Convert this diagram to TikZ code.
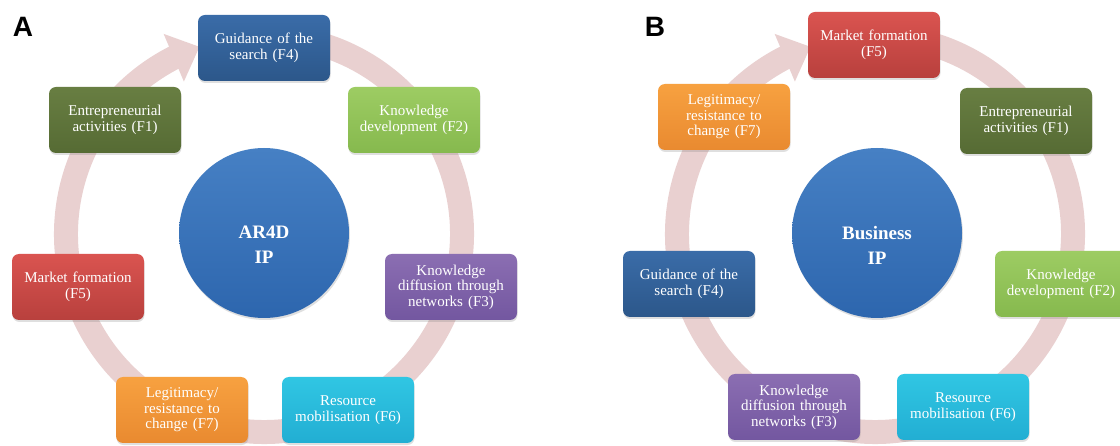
\documentclass[tikz,border=0pt]{standalone}
\usepackage{fontspec}
\setmainfont{Liberation Serif}
\newfontfamily\labelfont{Liberation Sans}
\usetikzlibrary{arrows.meta,bending,shadows}
\definecolor{ringc}{HTML}{E9D0D0}
\definecolor{fourT}{HTML}{3A6CA8}\definecolor{fourB}{HTML}{2C578A}
\definecolor{oneT}{HTML}{687E42}\definecolor{oneB}{HTML}{566B34}
\definecolor{twoT}{HTML}{9DCC63}\definecolor{twoB}{HTML}{86B94E}
\definecolor{fiveT}{HTML}{DA5450}\definecolor{fiveB}{HTML}{B8403D}
\definecolor{threeT}{HTML}{8B6EB2}\definecolor{threeB}{HTML}{7357A0}
\definecolor{sevenT}{HTML}{F7A140}\definecolor{sevenB}{HTML}{E98A30}
\definecolor{sixT}{HTML}{30C6E3}\definecolor{sixB}{HTML}{22AED3}
\definecolor{hubT}{HTML}{4680C4}\definecolor{hubB}{HTML}{2D66AE}
\begin{document}
\begin{tikzpicture}[x=1pt,y=-1pt,
  box/.style={rectangle, rounded corners=7pt, minimum width=132pt, minimum height=66pt,
    text width=128pt, align=center, text=white, inner sep=0pt,
    font=\fontsize{15}{15.5}\selectfont,
    drop shadow={shadow xshift=0.5pt, shadow yshift=-2pt, opacity=0.25}},
  fF1/.style={box, top color=oneT, bottom color=oneB},
  fF2/.style={box, top color=twoT, bottom color=twoB},
  fF3/.style={box, top color=threeT, bottom color=threeB},
  fF4/.style={box, top color=fourT, bottom color=fourB},
  fF5/.style={box, top color=fiveT, bottom color=fiveB},
  fF6/.style={box, top color=sixT, bottom color=sixB},
  fF7/.style={box, top color=sevenT, bottom color=sevenB},
  hub/.style={circle, minimum size=170pt, inner sep=0pt, top color=hubT, bottom color=hubB,
    drop shadow={shadow xshift=1pt, shadow yshift=-2pt, opacity=0.25}},
  hubtext/.style={text=white, align=center, font=\bfseries\fontsize{19}{25}\selectfont},
  ring/.style={line width=24pt, draw=ringc, -{Triangle[width=50pt,length=28pt]}},
  panel/.style={font=\labelfont\bfseries\fontsize{28}{28}\selectfont, text=black, inner sep=0pt}
]
\useasboundingbox[fill=white] (0,0) rectangle (1120,446);

% ---------- Panel A ----------
\coordinate (oA) at (264,234);
\draw[ring] ([shift={(-80:198)}]oA) arc[start angle=-80, end angle=251, radius=198];
\node[panel] (labA) at (23,27) {A};
\node[hub] (hubA) at (264,233) {};
\node[hubtext] (hubAt) at (264,245) {AR4D\\IP};
\node[fF4] (a4) at (264,48) {Guidance of the\\search (F4)};
\node[fF1] (a1) at (115,120) {Entrepreneurial\\activities (F1)};
\node[fF2] (a2) at (414,120) {Knowledge\\development (F2)};
\node[fF5] (a5) at (78,287) {Market formation\\(F5)};
\node[fF3] (a3) at (451,287) {Knowledge\\diffusion through\\networks (F3)};
\node[fF7] (a7) at (182,410) {Legitimacy/\\resistance to\\change (F7)};
\node[fF6] (a6) at (348,410) {Resource\\mobilisation (F6)};

% ---------- Panel B ----------
\coordinate (oB) at (875,234);
\draw[ring] ([shift={(-80:198)}]oB) arc[start angle=-80, end angle=251, radius=198];
\node[panel] (labB) at (655,27) {B};
\node[hub] (hubB) at (877,233) {};
\node[hubtext] (hubBt) at (877,245) {Business\\IP};
\node[fF5] (b5) at (874,45) {Market formation\\(F5)};
\node[fF7] (b7) at (724,117) {Legitimacy/\\resistance to\\change (F7)};
\node[fF1] (b1) at (1026,121) {Entrepreneurial\\activities (F1)};
\node[fF4] (b4) at (689,284) {Guidance of the\\search (F4)};
\node[fF2] (b2) at (1061,284) {Knowledge\\development (F2)};
\node[fF3] (b3) at (794,407) {Knowledge\\diffusion through\\networks (F3)};
\node[fF6] (b6) at (963,407) {Resource\\mobilisation (F6)};
\end{tikzpicture}
\end{document}
